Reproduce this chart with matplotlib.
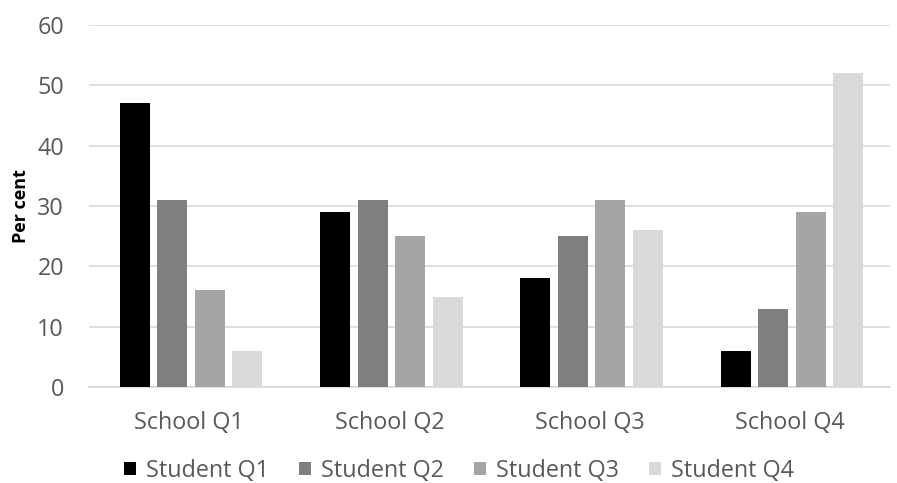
import matplotlib
matplotlib.use("Agg")
import matplotlib.pyplot as plt
import numpy as np

plt.rcParams['font.family'] = ['Open Sans', 'DejaVu Sans']

schools = ["School Q1", "School Q2", "School Q3", "School Q4"]
students = ["Student Q1", "Student Q2", "Student Q3", "Student Q4"]
student_q1 = [47, 29, 18, 6]
student_q2 = [31, 31, 25, 13]
student_q3 = [16, 25, 31, 29]
student_q4 = [6, 15, 26, 52]
series = [student_q1, student_q2, student_q3, student_q4]
colors = ["#000000", "#7f7f7f", "#a5a5a5", "#d9d9d9"]
yticks = [0, 10, 20, 30, 40, 50, 60]

fig = plt.figure(figsize=(8.97, 4.83), dpi=100)
ax = fig.add_axes([89 / 897, 1 - 387 / 483, (890 - 89) / 897, (387 - 25) / 483])

x = np.arange(len(schools))
width = 0.15
step = 0.1875
for i, (vals, col, name) in enumerate(zip(series, colors, students)):
    ax.bar(x + (i - 1.5) * step + 0.01, vals, width, color=col, label=name, zorder=3)

ax.set_xlim(-0.5, 3.5)
ax.set_ylim(0, 60)
ax.set_yticks(yticks)
ax.set_xticks(x)
ax.set_xticklabels(schools)
ax.yaxis.grid(True, color="#d9d9d9", linewidth=1.2, zorder=0)
ax.set_axisbelow(True)
for s in ["top", "right", "left"]:
    ax.spines[s].set_visible(False)
ax.spines["bottom"].set_color("#d9d9d9")
ax.spines["bottom"].set_linewidth(1.2)
ax.tick_params(axis="both", length=0, labelsize=16.8, colors="#595959")
ax.tick_params(axis="y", pad=18)
ax.tick_params(axis="x", pad=17.5)
ax.set_ylabel("Per cent", fontsize=13, fontweight="bold", color="#000000")
ax.yaxis.set_label_coords(-0.074, 0.5)

ax.legend(loc="center", bbox_to_anchor=(0.462, -0.232), ncol=4, frameon=False,
          fontsize=16.8, handlelength=0.5, handleheight=0.5, handletextpad=0.45,
          columnspacing=1.28, labelcolor="#595959")

fig.savefig("out.png", dpi=100)
